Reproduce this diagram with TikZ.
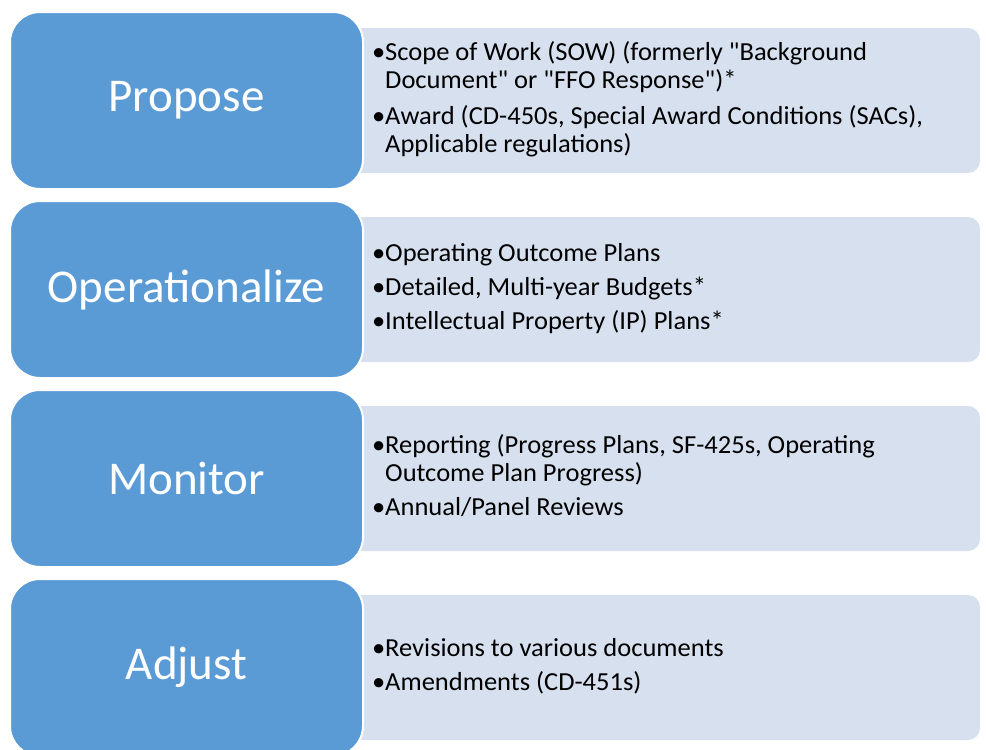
\documentclass[tikz,border=0pt]{standalone}
\usepackage{fontspec}
\setmainfont{Carlito}[Ligatures=TeXOff]
\newfontfamily\listfont{Carlito}[Ligatures=TeXOff, FakeStretch=1.02]
\usetikzlibrary{positioning}
\definecolor{stageblue}{RGB}{91,155,213}
\definecolor{paleblue}{RGB}{214,224,239}
\newcommand{\bul}{\makebox[13pt][l]{\textbullet}}
\newcommand{\pts}[1]{\begin{tabular}{@{}l@{}l@{}}#1\end{tabular}}

\begin{document}
\begin{tikzpicture}[x=1pt,y=1pt,
  stage/.style={rectangle, rounded corners=30pt, fill=stageblue, draw=white,
    line width=2pt, minimum width=353pt, minimum height=177pt, outer sep=0pt,
    text=white, font=\fontsize{47}{56}\selectfont},
  detail/.style={rectangle, rounded corners=12pt, fill=paleblue,
    minimum width=640pt, minimum height=145pt, outer sep=0pt},
  points/.style={anchor=west, inner sep=0pt, font=\listfont\fontsize{26}{28}\selectfont}]
  \useasboundingbox (0,0) rectangle (986,-750);
  \clip (0,0) rectangle (986,-750);
  % pale boxes behind
  \node[detail] (propR) at (660,-100.5) {};
  \node[detail, below=44pt of propR] (operR) {};
  \node[detail, below=44pt of operR] (monR) {};
  \node[detail, below=44pt of monR] (adjR) {};
  % stages
  \node[stage, left=-23pt of propR] (prop) {Propose};
  \node[stage, left=-23pt of operR] (oper) {Operationalize};
  \node[stage, left=-23pt of monR] (mon) {Monitor};
  \node[stage, left=-23pt of adjR] (adj) {Adjust};
  % bullet lists
  \node[points, right=32pt of propR.west] (propP) {\pts{
    \bul & Scope of Work (SOW) (formerly "Background\\
         & Document" or "FFO Response")*\\[8pt]
    \bul & Award (CD-450s, Special Award Conditions (SACs),\\
         & Applicable regulations)}};
  \node[points, right=32pt of operR.west] (operP) {\pts{
    \bul & Operating Outcome Plans\\[6pt]
    \bul & Detailed, Multi-year Budgets*\\[6pt]
    \bul & Intellectual Property (IP) Plans*}};
  \node[points, right=32pt of monR.west] (monP) {\pts{
    \bul & Reporting (Progress Plans, SF-425s, Operating\\
         & Outcome Plan Progress)\\[6pt]
    \bul & Annual/Panel Reviews}};
  \node[points, right=32pt of adjR.west] (adjP) {\pts{
    \bul & Revisions to various documents\\[6pt]
    \bul & Amendments (CD-451s)}};
\end{tikzpicture}
\end{document}
